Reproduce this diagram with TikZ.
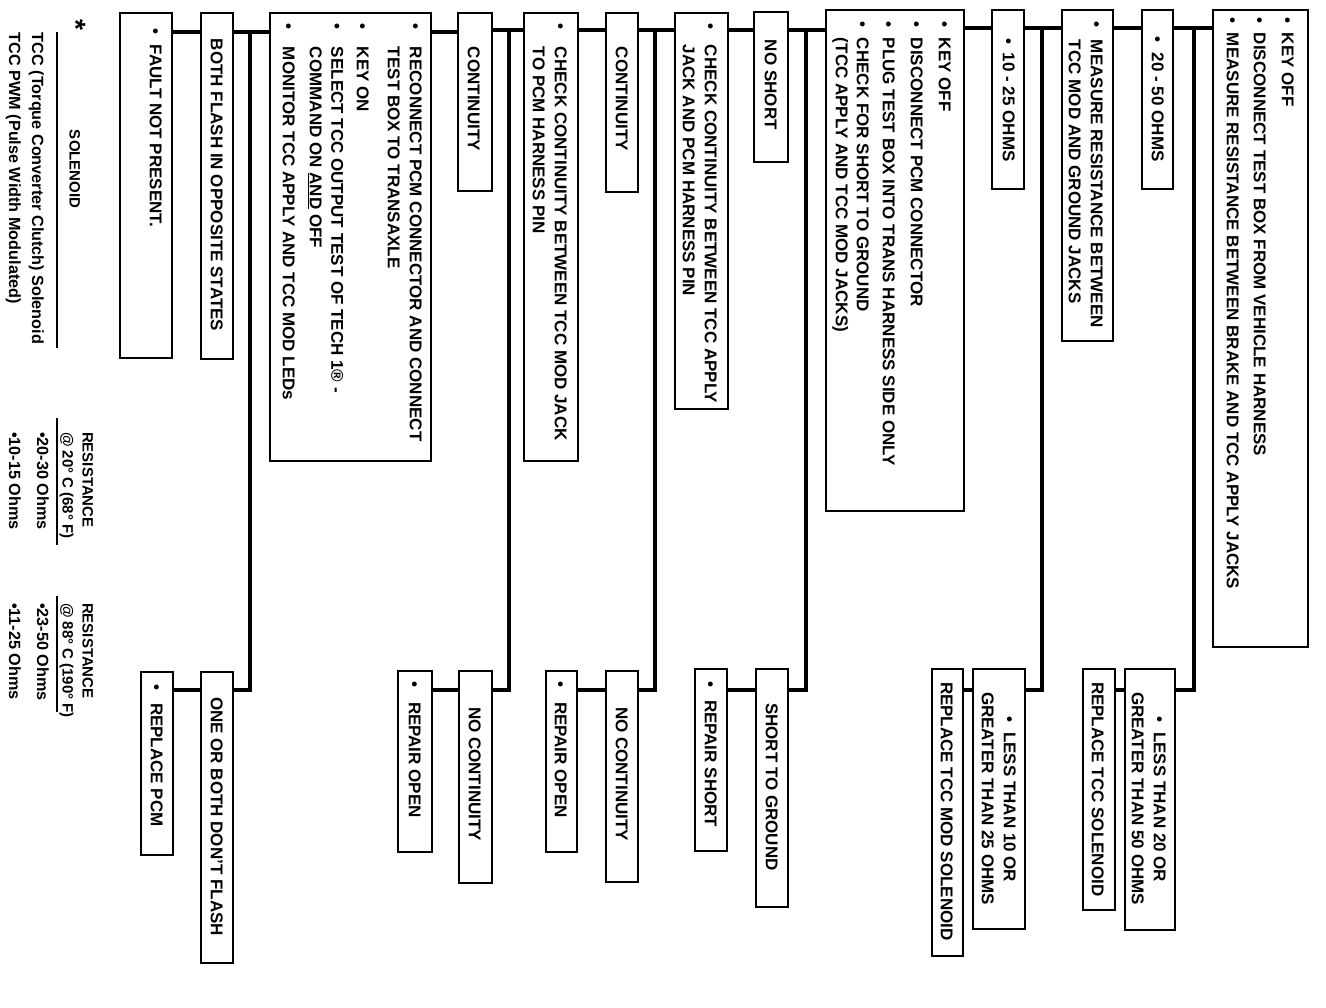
\documentclass[tikz,border=0pt]{standalone}
\usepackage{fontspec}
\setmainfont{Liberation Sans}
\usetikzlibrary{fit}
\tikzset{
  box/.style={draw, line width=1.8pt, inner sep=0pt, outer sep=0pt},
  conn/.style={line width=4.5pt, line join=miter},
  rule/.style={line width=1.6pt},
  txt/.style={rotate=-90, anchor=base west, inner sep=0pt, outer sep=0pt,
              font=\bfseries\fontsize{17}{20}\selectfont},
  leg/.style={rotate=-90, anchor=base west, inner sep=0pt, outer sep=0pt,
              font=\bfseries\fontsize{16.2}{19}\selectfont},
  hdr/.style={rotate=-90, anchor=base west, inner sep=0pt, outer sep=0pt,
              font=\bfseries\fontsize{15}{17}\selectfont},
}
% box: name, x1, y1, x2, y2  (pixel coords, y downwards)
\newcommand\mybox[5]{\node[box, fit={(#2,#3) (#4,#5)}] (#1) {};}
% text line: name, x of cap centre, y start, text
\newcommand\mytext[4]{\node[txt] (#1) at ({#2-6.1},#3) {#4};}
% bullet: name, x of cap centre, y of bullet centre
\newcommand\mybul[3]{\node[txt] (#1) at ({#2-6.1},{#3-3.2}) {•};}
\begin{document}
\begin{tikzpicture}[x=1pt,y=-1pt]
\fill[white] (0,0) rectangle (1326,1008);
\useasboundingbox (0,0) rectangle (1326,1008);

% ---------------- legend ----------------
\node[rotate=-90, inner sep=0pt, font=\bfseries\fontsize{28}{28}\selectfont] (star) at (76,25) {*};
\node[hdr] (solh) at ({75-5.4},130) {SOLENOID};
\coordinate (r1a) at (57,32); \coordinate (r1b) at (57,348);
\draw[rule] (r1a) -- (r1b);
\node[leg] (sol1) at ({38-5.8},33) {TCC (Torque Converter Clutch) Solenoid};
\node[leg] (sol2) at ({15-5.8},33) {TCC PWM (Pulse Width Modulated)};

\node[hdr] (resA) at ({88-5.4},432) {RESISTANCE};
\node[hdr] (resAt) at ({68-5.4},432) {@ 20° C (68° F)};
\coordinate (r2a) at (57,418); \coordinate (r2b) at (57,545);
\draw[rule] (r2a) -- (r2b);
\node[leg] (resA1) at ({43-5.8},432) {•20-30 Ohms};
\node[leg] (resA2) at ({15-5.8},432) {•10-15 Ohms};

\node[hdr] (resB) at ({88-5.4},603) {RESISTANCE};
\node[hdr] (resBt) at ({68-5.4},603) {@ 88° C (190° F)};
\coordinate (r3a) at (57,596); \coordinate (r3b) at (57,712);
\draw[rule] (r3a) -- (r3b);
\node[leg] (resB1) at ({43-5.8},603) {•23-50 Ohms};
\node[leg] (resB2) at ({15-5.8},603) {•11-25 Ohms};

% ---------------- boxes ----------------
\mybox{fault}{120}{13}{172}{358}
\mybox{both}{201}{13}{233}{359}
\mybox{oneboth}{201}{672}{233}{963}
\mybox{replpcm}{141}{672}{173}{855}
\mybox{reconn}{270}{13}{431}{461}
\mybox{contA}{458}{13}{492}{191}
\mybox{nocontA}{459}{671}{492}{883}
\mybox{repopenA}{398}{671}{432}{852}
\mybox{checkA}{524}{13}{578}{461}
\mybox{contB}{606}{13}{638}{192}
\mybox{nocontB}{606}{671}{638}{882}
\mybox{repopenB}{546}{671}{577}{852}
\mybox{checkB}{675}{13}{728}{409}
\mybox{noshort}{754}{12}{788}{162}
\mybox{shortgnd}{756}{669}{788}{907}
\mybox{repshort}{695}{669}{727}{851}
\mybox{keyoffA}{826}{10}{964}{511}
\mybox{ohmA}{992}{10}{1024}{189}
\mybox{lessA}{973}{669}{1025}{929}
\mybox{repmod}{932}{669}{963}{956}
\mybox{measure}{1062}{10}{1113}{341}
\mybox{ohmB}{1142}{10}{1173}{189}
\mybox{lessB}{1125}{669}{1175}{930}
\mybox{reptcc}{1083}{669}{1115}{910}
\mybox{keyoffB}{1213}{10}{1308}{647}

% ---------------- connectors ----------------
\coordinate (hL) at (0,32);
\coordinate (hM) at (0,30);
\coordinate (hR) at (0,28);
\coordinate (hB) at (0,690);

\draw[conn] (fault.east |- hL) -- (both.west |- hL);
\draw[conn] (both.east |- hL) -- (reconn.west |- hL);
\draw[conn] (reconn.east |- hL) -- (contA.west |- hL);
\draw[conn] (contA.east |- hM) -- (checkA.west |- hM);
\draw[conn] (checkA.east |- hM) -- (contB.west |- hM);
\draw[conn] (contB.east |- hM) -- (checkB.west |- hM);
\draw[conn] (checkB.east |- hM) -- (noshort.west |- hM);
\draw[conn] (noshort.east |- hM) -- (keyoffA.west |- hM);
\draw[conn] (keyoffA.east |- hR) -- (ohmA.west |- hR);
\draw[conn] (ohmA.east |- hR) -- (measure.west |- hR);
\draw[conn] (measure.east |- hR) -- (ohmB.west |- hR);
\draw[conn] (ohmB.east |- hR) -- (keyoffB.west |- hR);

\coordinate (j1) at (250,32);
\coordinate (j2) at (509,30);
\coordinate (j3) at (655,30);
\coordinate (j4) at (806,30);
\coordinate (j5) at (1042,28);
\coordinate (j6) at (1194,28);
\draw[conn] (j1) |- (oneboth.east |- hB);
\draw[conn] (j2) |- (nocontA.east |- hB);
\draw[conn] (j3) |- (nocontB.east |- hB);
\draw[conn] (j4) |- (shortgnd.east |- hB);
\draw[conn] (j5) |- (lessA.east |- hB);
\draw[conn] (j6) |- (lessB.east |- hB);

\draw[conn] (replpcm.east |- hB) -- (oneboth.west |- hB);
\draw[conn] (repopenA.east |- hB) -- (nocontA.west |- hB);
\draw[conn] (repopenB.east |- hB) -- (nocontB.west |- hB);
\draw[conn] (repshort.east |- hB) -- (shortgnd.west |- hB);
\draw[conn] (repmod.east |- hB) -- (lessA.west |- hB);
\draw[conn] (reptcc.east |- hB) -- (lessB.west |- hB);

% ---------------- texts ----------------
\mybul{bFault}{156}{32}
\mytext{tFault}{156}{45}{FAULT NOT PRESENT.}
\mytext{tBoth}{217}{39}{BOTH FLASH IN OPPOSITE STATES}
\mytext{tOne}{217}{697}{ONE OR BOTH DON'T FLASH}
\mybul{bRepl}{157}{688}
\mytext{tRepl}{157}{703}{REPLACE PCM}

\mybul{bR1}{416}{27}
\mytext{tR1}{416}{47}{RECONNECT PCM CONNECTOR AND CONNECT}
\mytext{tR2}{394}{47}{TEST BOX TO TRANSAXLE}
\mybul{bR3}{363}{27}
\mytext{tR3}{363}{47}{KEY ON}
\mybul{bR4}{337.5}{27}
\mytext{tR4}{337.5}{47}{SELECT TCC OUTPUT TEST OF TECH 1® -}
\mytext{tR5}{316}{47}{COMMAND ON \underline{AND} OFF}
\mybul{bR6}{289}{27}
\mytext{tR6}{289}{47}{MONITOR TCC APPLY AND TCC MOD LEDs}

\mytext{tContA}{474}{47}{CONTINUITY}
\mytext{tNoContA}{475}{707}{NO CONTINUITY}
\mybul{bRepA}{415}{685}
\mytext{tRepA}{415}{702}{REPAIR OPEN}

\mybul{bCA}{561}{27}
\mytext{tCA1}{561}{47}{CHECK CONTINUITY BETWEEN TCC MOD JACK}
\mytext{tCA2}{539}{47}{TO PCM HARNESS PIN}

\mytext{tContB}{622}{47}{CONTINUITY}
\mytext{tNoContB}{622}{707}{NO CONTINUITY}
\mybul{bRepB}{561}{685}
\mytext{tRepB}{561}{702}{REPAIR OPEN}

\mybul{bCB}{711}{27}
\mytext{tCB1}{711}{45}{CHECK CONTINUITY BETWEEN TCC APPLY}
\mytext{tCB2}{689}{45}{JACK AND PCM HARNESS PIN}

\mytext{tNoShort}{771}{40}{NO SHORT}
\mytext{tShort}{772}{703}{SHORT TO GROUND}
\mybul{bRepS}{711}{685}
\mytext{tRepS}{711}{700}{REPAIR SHORT}

\mybul{bK1}{945}{25}
\mytext{tK1}{945}{38}{KEY OFF}
\mybul{bK2}{917}{25}
\mytext{tK2}{917}{38}{DISCONNECT PCM CONNECTOR}
\mybul{bK3}{889}{25}
\mytext{tK3}{889}{38}{PLUG TEST BOX INTO TRANS HARNESS SIDE ONLY}
\mybul{bK4}{863}{25}
\mytext{tK4}{863}{38}{CHECK FOR SHORT TO GROUND}
\mytext{tK5}{842}{38}{(TCC APPLY AND TCC MOD JACKS)}

\mybul{bOA}{1009}{42}
\mytext{tOA}{1009}{53}{10 - 25 OHMS}
\mybul{bLA}{1010}{720}
\mytext{tLA1}{1010}{732}{LESS THAN 10 OR}
\mytext{tLA2}{988}{692}{GREATER THAN 25 OHMS}
\mytext{tRM}{947}{682}{REPLACE TCC MOD SOLENOID}

\mybul{bM}{1097}{25}
\mytext{tM1}{1097}{40}{MEASURE RESISTANCE BETWEEN}
\mytext{tM2}{1075}{40}{TCC MOD AND GROUND JACKS}

\mybul{bOB}{1158}{40}
\mytext{tOB}{1158}{53}{20 - 50 OHMS}
\mybul{bLB}{1160}{720}
\mytext{tLB1}{1160}{732}{LESS THAN 20 OR}
\mytext{tLB2}{1138}{692}{GREATER THAN 50 OHMS}
\mytext{tRT}{1098}{682}{REPLACE TCC SOLENOID}

\mybul{bKB1}{1288}{21}
\mytext{tKB1}{1288}{33}{KEY OFF}
\mybul{bKB2}{1260}{21}
\mytext{tKB2}{1260}{33}{DISCONNECT TEST BOX FROM VEHICLE HARNESS}
\mybul{bKB3}{1233}{21}
\mytext{tKB3}{1233}{33}{MEASURE RESISTANCE BETWEEN BRAKE AND TCC APPLY JACKS}
\end{tikzpicture}
\end{document}
